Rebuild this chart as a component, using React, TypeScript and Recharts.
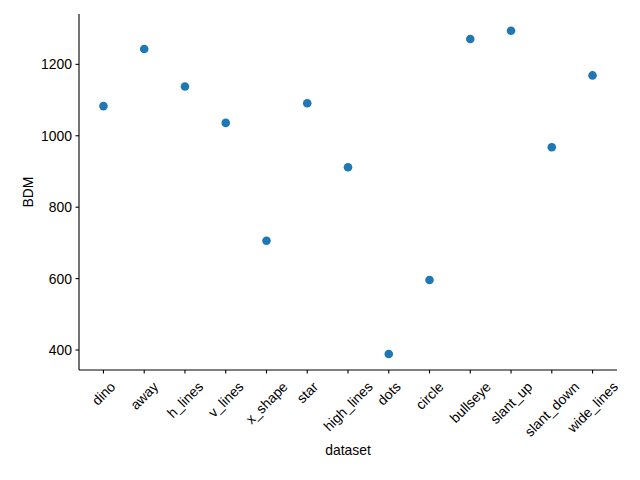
import React from 'react';
import { ScatterChart, Scatter, XAxis, YAxis } from 'recharts';

const categories = [
  'dino', 'away', 'h_lines', 'v_lines', 'x_shape', 'star', 'high_lines',
  'dots', 'circle', 'bullseye', 'slant_up', 'slant_down', 'wide_lines',
];
const bdm = [1083, 1243, 1138, 1036, 706, 1091, 912, 389, 596, 1271, 1294, 968, 1169];
const yTicks = [400, 600, 800, 1000, 1200];

const FONT = "'Liberation Sans', Arial, Helvetica, sans-serif";
const FS = 13.9;
const DOT = '#1f77b4';

let ctx: CanvasRenderingContext2D | null = null;
function textWidth(s: string) {
  if (!ctx) ctx = document.createElement('canvas').getContext('2d');
  if (!ctx) return s.length * FS * 0.55;
  ctx.font = `${FS}px ${FONT}`;
  return ctx.measureText(s).width;
}

const points = categories.map((name, i) => ({ idx: i, name, bdm: bdm[i] }));

// rotated 45deg labels, bbox centred on the tick like matplotlib
function RotTick(props: any) {
  const { x, y, payload } = props;
  const label = categories[payload.value] ?? '';
  const L = textWidth(label);
  const cy = y + (L + 16) / (2 * Math.SQRT2) + 1.5;
  return (
    <text
      x={x}
      y={cy}
      textAnchor="middle"
      dominantBaseline="central"
      transform={`rotate(-45 ${x} ${cy})`}
      fontSize={FS}
      fontFamily={FONT}
      fill="#000"
    >
      {label}
    </text>
  );
}

const dotShape = (p: any) => <circle cx={p.cx} cy={p.cy} r={4.3} fill={DOT} />;

export default function App() {
  return (
    <div style={{ position: 'absolute', left: 0, top: 0, width: 640, height: 480, background: '#fff' }}>
      <ScatterChart width={640} height={480} margin={{ top: 14, right: 23, bottom: 30, left: 19 }}>
        <XAxis
          type="number"
          dataKey="idx"
          domain={[-0.6, 12.6]}
          ticks={categories.map((_, i) => i)}
          allowDataOverflow
          height={80}
          tickSize={3.5}
          tickMargin={3.5}
          tick={<RotTick />}
          stroke="#000"
          strokeWidth={1.1}
          tickLine={{ stroke: '#000', strokeWidth: 1.1 }}
          label={{
            content: () => (
              <text x={348} y={450} textAnchor="middle" dominantBaseline="central" fontSize={FS} fontFamily={FONT} fill="#000">
                dataset
              </text>
            ),
          }}
        />
        <YAxis
          type="number"
          dataKey="bdm"
          domain={[344, 1341]}
          ticks={yTicks}
          allowDataOverflow
          width={60}
          tickSize={3.5}
          tickMargin={3.5}
          stroke="#000"
          strokeWidth={1.1}
          tickLine={{ stroke: '#000', strokeWidth: 1.1 }}
          tick={{ fontSize: FS, fontFamily: FONT, fill: '#000' }}
          label={{
            content: () => (
              <text x={28} y={192} textAnchor="middle" dominantBaseline="central" transform="rotate(-90 28 192)" fontSize={FS} fontFamily={FONT} fill="#000">
                BDM
              </text>
            ),
          }}
        />
        <Scatter data={points} fill={DOT} shape={dotShape} isAnimationActive={false} />
      </ScatterChart>
    </div>
  );
}
